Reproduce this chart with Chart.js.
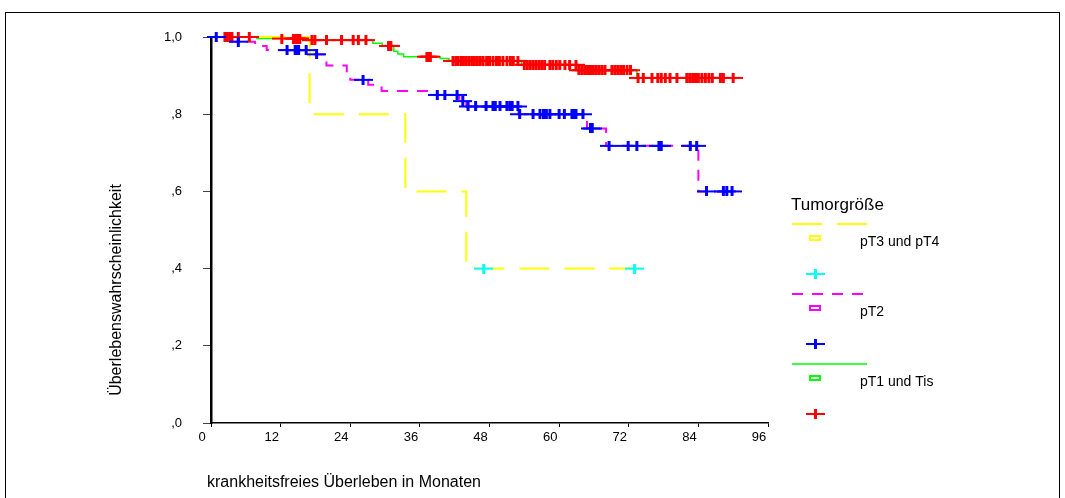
<!DOCTYPE html>
<html lang="de">
<head>
<meta charset="UTF-8">
<script src="https://cdn.jsdelivr.net/npm/chart.js"></script>
<title>Überlebenskurven nach Tumorgröße</title>
<style>
    body {
        margin: 0;
        background: #ffffff;
        font-family: Arial, 'Liberation Sans', sans-serif;
    }
    .frame {
        position: absolute;
        left: 5px;
        top: 12px;
        width: 1055px;
        height: 500px;
        border: 1px solid #000;
        box-sizing: border-box;
    }
    #kmChart {
        position: absolute;
        left: 0;
        top: 0;
    }
</style>
</head>
<body>
<div class="frame"></div>
<canvas id="kmChart" width="1065" height="498"></canvas>

<script>
// --- data (months, survival) ---
const xTicks = [0, 12, 24, 36, 48, 60, 72, 84, 96];
const yTicks = [0, 0.2, 0.4, 0.6, 0.8, 1.0];

// pT3 und pT4
const pT34Times = [0, 17, 33.5, 44, 74.5];
const pT34Surv = [1, 0.8, 0.6, 0.4, 0.4];
const pT34Censored = [47, 73];

// pT2
const pT2Times = [0, 3.3, 7.6, 9.6, 16.7, 19.9, 23.4, 24.0, 27.1, 29.4, 37.5, 42.8, 44.0, 53.0, 64.8, 68.1, 84.0, 90.0];
const pT2Surv = [1, 0.988, 0.977, 0.966, 0.955, 0.926, 0.90, 0.889, 0.876, 0.86, 0.85, 0.834, 0.82, 0.80, 0.763, 0.718, 0.60, 0.60];
const pT2Censored = [0.9, 4.7, 13.1, 14.5, 14.8, 15.1, 16.4, 18.2, 26.2, 39, 40.3, 42.4, 43.4, 44.3, 45.6, 47.4,
    48.6, 49.0, 49.8, 51.0, 51.5, 51.9, 52.9, 53.2, 55.5, 56.7, 57.3, 57.8, 58.4, 60.0, 60.9, 62.2, 62.6, 62.9,
    64.1, 65.4, 65.7, 68.6, 71.9, 73.4, 77.2, 77.6, 82.6, 83.7, 85.4, 88.3, 88.9, 89.8];

// pT1 und Tis
const pT1Times = [0, 7.9, 16.5, 27.9, 29.5, 31.5, 32.2, 33.2, 39.5, 41.0, 53.5, 63.0, 73.4, 90.5];
const pT1Surv = [1, 0.996, 0.992, 0.984, 0.977, 0.963, 0.956, 0.949, 0.944, 0.938, 0.928, 0.914, 0.894, 0.894];
const pT1Censored = [2.4, 2.8, 3.2, 3.6, 4.7, 6.6, 12.2, 14.2, 14.6, 15.0, 15.3, 17.4, 17.9, 19.9, 22.5, 24.5,
    25.4, 26.7, 30.6, 31.0, 37.2, 37.5, 37.8, 41.7, 42.2, 42.6, 43.1, 43.5, 44.0, 44.5, 45.0, 45.4, 45.9, 46.4,
    46.9, 47.5, 48.0, 48.6, 49.2, 49.7, 50.3, 51.0, 51.6, 52.1, 52.9, 54.0, 54.5, 55.0, 55.5, 56.0, 56.5, 57.0,
    57.5, 58.4, 58.9, 59.5, 60.1, 61.0, 61.8, 62.9, 63.4, 63.9, 64.4, 64.9, 65.4, 65.9, 66.4, 66.9, 67.4, 67.9,
    69.1, 69.6, 70.1, 70.6, 71.1, 71.7, 72.3, 73.6, 74.5, 76.0, 77.0, 77.6, 78.3, 79.1, 80.3, 82.0, 82.5, 83.0,
    83.5, 84.0, 84.6, 85.2, 85.8, 86.4, 87.8, 88.3, 90.0];

const groupNames = ['pT3 und pT4', 'pT2', 'pT1 und Tis'];
const legendTitle = 'Tumorgröße';
const xTitle = 'krankheitsfreies Überleben in Monaten';
const yTitle = 'Überlebenswahrscheinlichkeit';

// --- helpers ---
function steps(times, surv) {
    return times.map((t, i) => ({ x: t, y: surv[i] }));
}

// censored marks sit on the step curve at their time
function onCurve(censored, times, surv) {
    return censored.map(t => {
        let s = surv[0];
        for (let i = 0; i < times.length; i++) {
            if (times[i] <= t) s = surv[i];
        }
        return { x: t, y: s };
    });
}

// wide "+" as SPSS draws it
function crossMarker(color) {
    const c = document.createElement('canvas');
    c.width = 19;
    c.height = 10;
    const g = c.getContext('2d');
    g.fillStyle = color;
    g.fillRect(0, 4, 19, 2);
    g.fillRect(8, 0, 3, 10);
    return c;
}

const groups = [
    { line: '#ffff00', dash: [30, 15], width: 2, mark: '#00ffff' },
    { line: '#ff00ff', dash: [11, 9], width: 2, mark: '#0000ff' },
    { line: '#00ff00', dash: [], width: 1.5, mark: '#ff0000' }
];
const markers = groups.map(g => crossMarker(g.mark));

// horizontal until the event time, then drop (Kaplan-Meier step)
function lineSet(data, g) {
    return {
        data: data, stepped: 'before', borderColor: g.line, borderWidth: g.width,
        borderDash: g.dash, pointRadius: 0, fill: false, clip: false, order: 2
    };
}
function censorSet(data, img) {
    return {
        data: data, showLine: false, pointStyle: img, pointRadius: 6,
        clip: false, order: 1
    };
}

// legend + axis titles drawn as text on the canvas
const textPlugin = {
    id: 'sketchText',
    afterDraw(chart) {
        const ctx = chart.ctx;
        ctx.save();
        ctx.fillStyle = '#000';
        ctx.textBaseline = 'middle';
        ctx.font = '16px Arial, "Liberation Sans", sans-serif';

        ctx.save();
        ctx.translate(117, 290);
        ctx.rotate(-Math.PI / 2);
        ctx.textAlign = 'center';
        ctx.fillText(yTitle, 0, 0);
        ctx.restore();

        ctx.textAlign = 'left';
        ctx.fillText(xTitle, 207, 483);

        ctx.font = '17px Arial, "Liberation Sans", sans-serif';
        ctx.fillText(legendTitle, 791, 205);

        ctx.font = '14px Arial, "Liberation Sans", sans-serif';
        groups.forEach((g, i) => {
            const top = 224 + i * 70;
            ctx.strokeStyle = g.line;
            ctx.lineWidth = g.width;
            ctx.setLineDash(g.dash);
            ctx.beginPath();
            ctx.moveTo(792, top);
            ctx.lineTo(867, top);
            ctx.stroke();
            ctx.setLineDash([]);
            ctx.lineWidth = 2;
            ctx.strokeRect(810, top + 12, 10, 4);
            ctx.fillText(groupNames[i], 860, top + 18);
            ctx.drawImage(markers[i], 806, top + 45);
        });
        ctx.restore();
    }
};

new Chart(document.getElementById('kmChart'), {
    type: 'line',
    data: {
        datasets: [
            lineSet(steps(pT34Times, pT34Surv), groups[0]),
            lineSet(steps(pT2Times, pT2Surv), groups[1]),
            lineSet(steps(pT1Times, pT1Surv), groups[2]),
            censorSet(onCurve(pT34Censored, pT34Times, pT34Surv), markers[0]),
            censorSet(onCurve(pT2Censored, pT2Times, pT2Surv), markers[1]),
            censorSet(onCurve(pT1Censored, pT1Times, pT1Surv), markers[2])
        ]
    },
    options: {
        responsive: false,
        animation: false,
        layout: { padding: { left: 151, right: 297, top: 37, bottom: 45 } },
        plugins: { legend: { display: false }, tooltip: { enabled: false } },
        scales: {
            x: {
                type: 'linear', min: xTicks[0], max: xTicks[xTicks.length - 1],
                afterFit: s => { s.height = 30; },
                afterBuildTicks: s => { s.ticks = xTicks.map(v => ({ value: v })); },
                ticks: { labelOffset: -9, padding: 3, color: '#000', font: { size: 13 } },
                grid: { drawOnChartArea: false, tickLength: 4, color: '#000' },
                border: { color: '#000', width: 1.5 }
            },
            y: {
                min: 0, max: 1,
                afterFit: s => { s.width = 60; },
                afterBuildTicks: s => { s.ticks = yTicks.map(v => ({ value: v })); },
                ticks: {
                    padding: 21, color: '#000', font: { size: 13 },
                    callback: v => v.toFixed(1).replace('.', ',').replace(/^0/, '')
                },
                grid: { drawOnChartArea: false, tickLength: 8, color: '#444' },
                border: { color: '#000', width: 2.5 }
            }
        }
    },
    plugins: [textPlugin]
});
</script>
</body>
</html>
